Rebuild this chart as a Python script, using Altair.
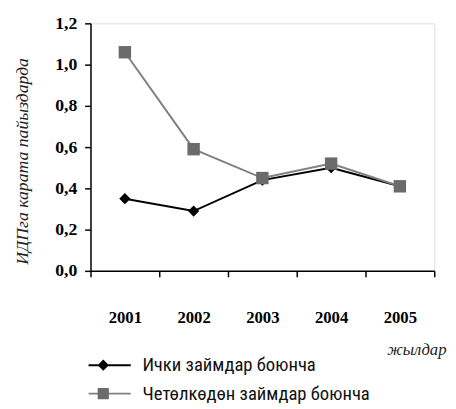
import altair as alt
import pandas as pd

years = ["2001", "2002", "2003", "2004", "2005"]
ichki = [0.35, 0.29, 0.44, 0.50, 0.41]
chet = [1.06, 0.59, 0.45, 0.52, 0.41]
series_names = ["Ички займдар боюнча", "Четөлкөдөн займдар боюнча"]
y_ticks = [0.0, 0.2, 0.4, 0.6, 0.8, 1.0, 1.2]

SERIF = "'Liberation Serif', 'Times New Roman', 'DejaVu Serif', serif"
NARROW = "'Liberation Sans Narrow', 'Roboto Condensed', Roboto, sans-serif"

df1 = pd.DataFrame({"year": years, "value": ichki})
df2 = pd.DataFrame({"year": years, "value": chet})

x_enc = alt.X(
    "year:N",
    scale=alt.Scale(type="band", domain=years, paddingInner=0, paddingOuter=0),
    axis=alt.Axis(
        title="жылдар", titleFont=SERIF, titleFontStyle="italic", titleFontWeight="normal",
        titleFontSize=17, titleColor="#222", titleAlign="right", titleBaseline="middle",
        titleX=362, titleY=80, titleAnchor="end",
        labelAngle=0, labelFont=SERIF, labelFontWeight="bold", labelFontSize=17,
        labelColor="#000", labelPadding=42, labelBaseline="middle",
        tickBand="extent", tickSize=6, tickColor="#000", tickWidth=1.5,
        domainColor="#000", domainWidth=1.5, grid=False,
    ),
)
y_enc = alt.Y(
    "value:Q",
    scale=alt.Scale(domain=[0, 1.2], nice=False, zero=True),
    axis=alt.Axis(
        values=y_ticks,
        labelExpr="replace(format(datum.value, '.1f'), '.', ',')",
        title="ИДПга карата пайыздарда", titleFont=SERIF, titleFontStyle="italic",
        titleFontWeight="normal", titleFontSize=18, titleColor="#222",
        titleX=-69, titleY=140, titleAngle=-90, titleAlign="center", titleBaseline="middle",
        labelFont=SERIF, labelFontWeight="bold", labelFontSize=18, labelColor="#000",
        labelPadding=8, tickSize=6, tickColor="#000", tickWidth=1.5,
        domainColor="#000", domainWidth=1.5, grid=False,
    ),
)

line1 = alt.Chart(df1).mark_line(color="#000", strokeWidth=2).encode(x=x_enc, y=y_enc)
pts1 = alt.Chart(df1).mark_point(shape="diamond", filled=True, color="#000", size=130, opacity=1).encode(x="year:N", y="value:Q")
line2 = alt.Chart(df2).mark_line(color="#808080", strokeWidth=2).encode(x="year:N", y="value:Q")
pts2 = alt.Chart(df2).mark_point(shape="square", filled=True, color="#6b6b6b", size=160, opacity=1).encode(x="year:N", y="value:Q")

# legend (guide) built from small layers
leg = pd.DataFrame({"name": series_names, "ly": [348, 377],
                    "lc": ["#000", "#808080"], "mc": ["#000", "#6b6b6b"],
                    "shape": ["diamond", "square"]})
leg_rule = alt.Chart(leg).mark_rule(strokeWidth=2).encode(
    x=alt.value(-2), x2=alt.value(41), y=alt.Y("ly:Q", scale=None),
    color=alt.Color("lc:N", scale=None))
leg_pt = alt.Chart(leg).mark_point(filled=True, size=130, opacity=1).encode(
    x=alt.value(13), y=alt.Y("ly:Q", scale=None),
    color=alt.Color("mc:N", scale=None), shape=alt.Shape("shape:N", scale=None))
leg_txt = alt.Chart(leg).mark_text(align="left", baseline="middle", font=NARROW,
                                   fontSize=19, color="#111").encode(
    x=alt.value(53), y=alt.Y("ly:Q", scale=None), text="name:N")

chart = alt.layer(line1, pts1, line2, pts2, leg_rule, leg_pt, leg_txt).properties(
    width=350, height=252,
    autosize=alt.AutoSizeParams(type="none"),
    padding={"left": 84, "top": 12, "right": 14, "bottom": 137},
).configure_view(stroke=None).configure(background="white")

chart.save("out.html", embed_options={"renderer": "svg", "actions": False})
